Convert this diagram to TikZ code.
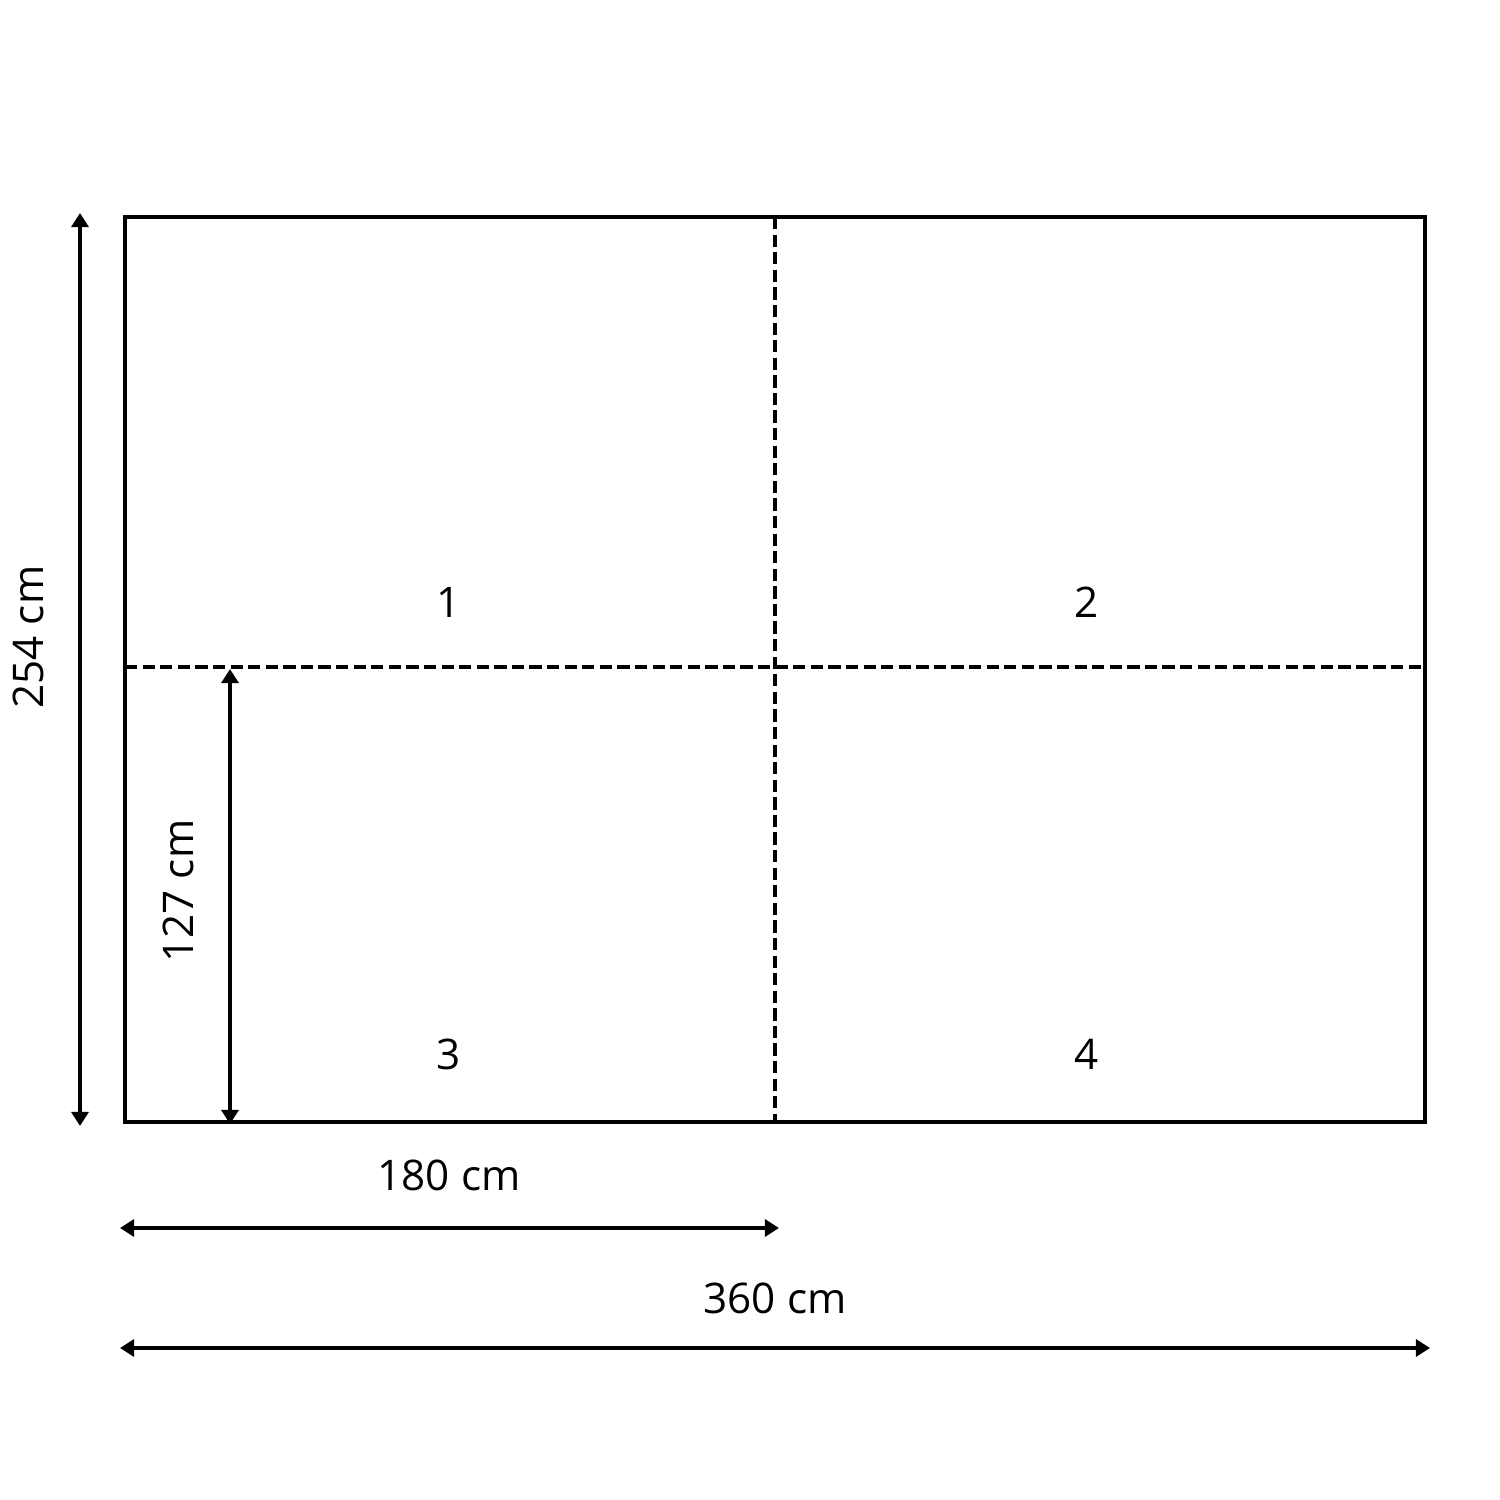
\documentclass[tikz,border=0pt]{standalone}
\usepackage{fontspec}
\setmainfont{Open Sans}
\usetikzlibrary{arrows.meta}
\begin{document}
\begin{tikzpicture}[x=0.01cm,y=-0.01cm,
  frame/.style={line width=1.35pt},
  cut/.style={line width=1.1pt,dash pattern=on 3.5pt off 1.5pt},
  dim/.style={line width=1.25pt,{Triangle[width=4.8pt,length=4pt]}-{Triangle[width=4.8pt,length=4pt]}},
  lbl/.style={font=\fontsize{12pt}{14pt}\selectfont,inner sep=0pt}]
\useasboundingbox (0,0) rectangle (1500,1500);
\coordinate (tl) at (125,217);
\coordinate (br) at (1425,1122);
\coordinate (vt) at (775,217);
\coordinate (vb) at (775,1122);
\coordinate (hl) at (125,667);
\coordinate (hr) at (1425,667);
\draw[cut] (vt) -- (vb);
\draw[cut] (hl) -- (hr);
\draw[frame] (tl) rectangle (br);
\coordinate (a1) at (80,213);
\coordinate (a2) at (80,1126);
\draw[dim] (a1) -- (a2);
\coordinate (b1) at (230,669);
\coordinate (b2) at (230,1124);
\draw[dim] (b1) -- (b2);
\coordinate (c1) at (120,1228);
\coordinate (c2) at (779,1228);
\draw[dim] (c1) -- (c2);
\coordinate (d1) at (120,1348);
\coordinate (d2) at (1430,1348);
\draw[dim] (d1) -- (d2);
\node[lbl,rotate=90] (l254) at (28,637) {254 cm};
\node[lbl,rotate=90] (l127) at (178,891) {127 cm};
\node[lbl] (l180) at (449,1175) {180 cm};
\node[lbl] (l360) at (775,1298) {360 cm};
\node[lbl] (n1) at (449,602) {1};
\node[lbl] (n2) at (1087,602) {2};
\node[lbl] (n3) at (449,1054) {3};
\node[lbl] (n4) at (1087,1054) {4};
\end{tikzpicture}
\end{document}
